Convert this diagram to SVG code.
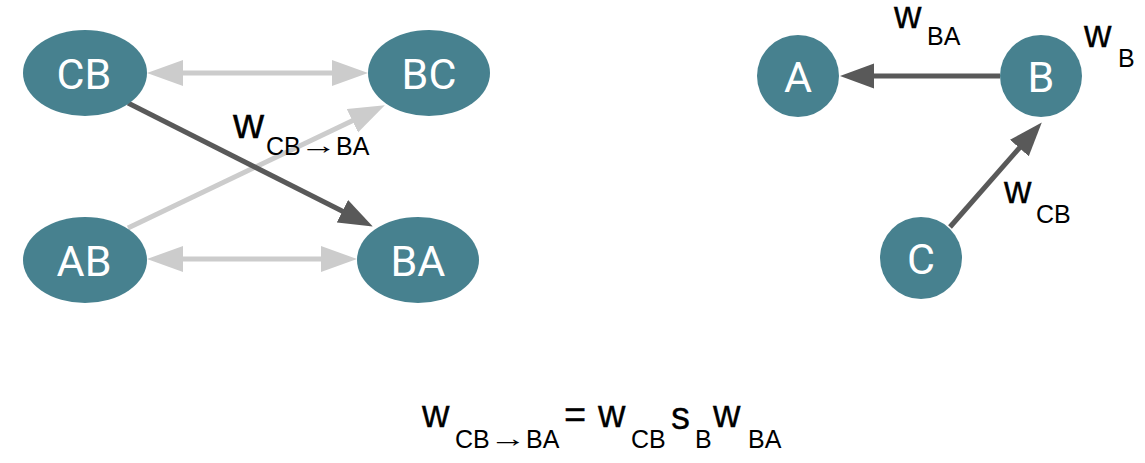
<svg xmlns="http://www.w3.org/2000/svg" width="1145" height="463" viewBox="0 0 1145 463">
<style>
.node{fill:#47818f}
.nl{fill:#ffffff;font-family:Roboto,"Liberation Sans",sans-serif;font-size:43px;text-anchor:middle}
.dark{stroke:#595959;stroke-width:5;fill:none}
.light{stroke:#cccccc;stroke-width:5;fill:none}
.lab{fill:#000000;font-family:"Liberation Sans",Arial,sans-serif}
.w{font-size:38px;stroke:#000000;stroke-width:0.3}
.wl{font-size:43px;stroke:#000000;stroke-width:0.3}
.sub{font-size:25px}
.arr{font-size:25px;text-anchor:middle}
</style>
<defs>
<marker id="ad" markerUnits="userSpaceOnUse" markerWidth="36" markerHeight="26" refX="4" refY="12.5" orient="auto"><path d="M0,0 L34,12.5 L0,25 Z" fill="#595959"/></marker>
<marker id="al" markerUnits="userSpaceOnUse" markerWidth="38" markerHeight="28" refX="4" refY="13" orient="auto-start-reverse"><path d="M0,0 L36,13 L0,26 Z" fill="#cccccc"/></marker>
</defs>
<g id="connectors">
<line class="light" x1="179" y1="73" x2="336" y2="73" marker-start="url(#al)" marker-end="url(#al)"/>
<line class="light" x1="179" y1="259" x2="325" y2="259" marker-start="url(#al)" marker-end="url(#al)"/>
<line class="light" x1="128" y1="228" x2="356" y2="119" marker-end="url(#al)"/>
<line class="dark" x1="128" y1="103" x2="346" y2="213" marker-end="url(#ad)"/>
<line class="dark" x1="1000" y1="76" x2="870" y2="76" marker-end="url(#ad)"/>
<line class="dark" x1="950" y1="227" x2="1022" y2="145" marker-end="url(#ad)"/>
</g>
<g id="node-CB"><ellipse class="node" cx="85" cy="73" rx="62" ry="43"/><text class="nl" x="84" y="89">CB</text></g>
<g id="node-BC"><ellipse class="node" cx="429" cy="73" rx="61" ry="43"/><text class="nl" x="429" y="89">BC</text></g>
<g id="node-AB"><ellipse class="node" cx="85" cy="260" rx="62" ry="43"/><text class="nl" x="84" y="276">AB</text></g>
<g id="node-BA"><ellipse class="node" cx="418" cy="260" rx="61" ry="43"/><text class="nl" x="418" y="276">BA</text></g>
<g id="node-A"><circle class="node" cx="798" cy="76" r="41"/><text class="nl" x="798" y="92">A</text></g>
<g id="node-B"><circle class="node" cx="1041" cy="76" r="41"/><text class="nl" x="1041" y="92">B</text></g>
<g id="node-C"><circle class="node" cx="921" cy="258" r="41"/><text class="nl" x="921" y="274">C</text></g>
<g id="labels" class="lab">
<text class="wl" x="233" y="138">w</text><text class="sub" x="266" y="155">CB</text><text class="arr" transform="translate(318.5,154) scale(1.5,1)">→</text><text class="sub" x="336" y="155">BA</text>
<text class="w" x="894" y="28">w</text><text class="sub" x="927" y="45">BA</text>
<text class="w" x="1084" y="47">w</text><text class="sub" x="1118" y="67">B</text>
<text class="w" x="1004" y="203">w</text><text class="sub" x="1036" y="223">CB</text>
</g>
<g id="equation" class="lab">
<text class="w" x="422" y="427">w</text><text class="sub" x="455" y="448">CB</text><text class="arr" transform="translate(508,447) scale(1.5,1)">→</text><text class="sub" x="526" y="448">BA</text>
<text class="w" x="564" y="428">=</text>
<text class="w" x="598" y="427">w</text><text class="sub" x="631" y="448">CB</text>
<text class="w" x="671" y="429">s</text><text class="sub" x="695" y="448">B</text>
<text class="w" x="713" y="427">w</text><text class="sub" x="748" y="448">BA</text>
</g>
</svg>
